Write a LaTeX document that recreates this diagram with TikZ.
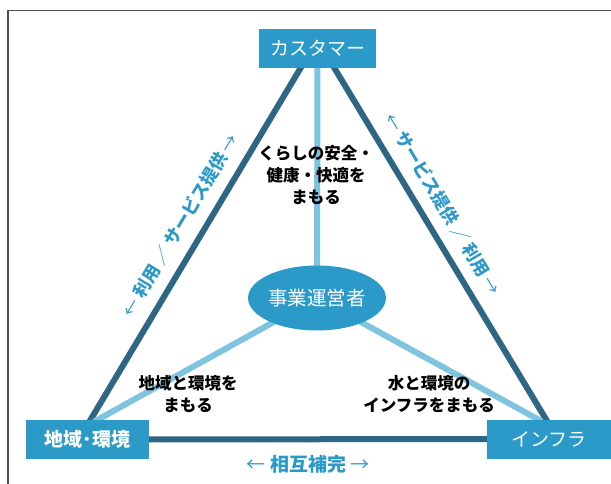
\documentclass[tikz,border=0pt]{standalone}
\usepackage{fontspec}
\setmainfont{Noto Sans CJK JP}
\usetikzlibrary{backgrounds,calc,shapes.geometric}
\definecolor{boxblue}{HTML}{2B9AC8}
\definecolor{darkline}{HTML}{2E6685}
\definecolor{lightline}{HTML}{7EC4E1}
\definecolor{framegray}{HTML}{505050}
\newcommand{\arr}[1]{{\mdseries #1}}
\begin{document}
\begin{tikzpicture}[x=1pt,y=-1pt,
  box/.style={rectangle, fill=boxblue, text=white, font=\fontsize{19}{22}\selectfont, minimum height=39pt, inner sep=0pt},
  hub/.style={ellipse, fill=boxblue, text=white, font=\fontsize{19.5}{22}\selectfont, minimum width=118pt, minimum height=65pt, inner sep=0pt},
  dark/.style={draw=darkline, line width=6pt, shorten <=-4pt, shorten >=-4pt},
  light/.style={draw=lightline, line width=6pt, shorten <=-4pt, shorten >=-4pt},
  lbl/.style={align=center, font=\fontsize{16.5}{22}\selectfont\bfseries, text=black, inner sep=0pt},
  blbl/.style={font=\fontsize{17.5}{20}\selectfont\bfseries, text=boxblue, inner sep=0pt}]
\useasboundingbox (0,0) rectangle (611,484);
\draw[framegray, line width=1.2pt] (8,484) -- (8,10.5) -- (611,10.5);
\node[box, minimum width=117pt] (cust) at (317.5,48.5) {カスタマー};
\node[box, minimum width=123pt, font=\fontsize{19}{22}\selectfont\bfseries] (reg) at (87.5,439.5) {地域･環境};
\node[box, minimum width=124pt] (inf) at (549,439) {インフラ};
\node[hub] (op) at (317,298) {事業運営者};
\coordinate (cl) at ($(cust.south)+(-17,0)$);
\coordinate (cr) at ($(cust.south)+(17,0)$);
\coordinate (rd) at ($(reg.north)+(3,0)$);
\coordinate (id) at ($(inf.north)+(-3,0)$);
\coordinate (rl) at ($(reg.north)+(10,0)$);
\coordinate (il) at ($(inf.north)+(-11,0)$);
\begin{scope}[on background layer]
\draw[dark] (cl) -- (rd) node[pos=0.48, sloped, above=11pt, blbl] (lt) {\arr{←} 利用 \arr{／} サービス提供 \arr{→}};
\draw[dark] (cr) -- (id) node[pos=0.42, sloped, above=11pt, blbl] (rt) {\arr{←} サービス提供 \arr{／} 利用 \arr{→}};
\draw[dark] (reg) -- (inf);
\draw[light] (cust) -- (op);
\draw[light] (op.center) -- (rl);
\draw[light] (op.center) -- (il);
\end{scope}
\node[lbl] (t1) at (316,175) {くらしの安全・\\健康・快適を\\まもる};
\node[lbl] (t2) at (188,394) {地域と環境を\\まもる};
\node[lbl] (t3) at (429,394) {水と環境の\\インフラをまもる};
\node[blbl, font=\fontsize{19}{22}\selectfont\bfseries] (bt) at (308,464) {\arr{←} 相互補完 \arr{→}};
\end{tikzpicture}
\end{document}
